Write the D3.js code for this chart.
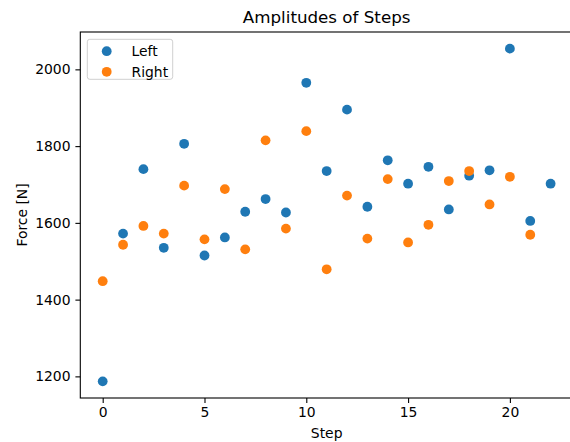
<!DOCTYPE html>
<html><head><meta charset="utf-8">
<script src="https://cdn.jsdelivr.net/npm/d3@7"></script>
<style>body{margin:0;background:#fff}svg{display:block;font-family:"DejaVu Sans",sans-serif}</style>
</head><body><svg id="c" width="570" height="442"></svg>
<script>
const leftValues = [1187, 1572, 1740, 1535, 1806, 1515, 1562, 1629, 1662, 1627, 1965, 1735, 1895, 1642, 1763, 1702, 1746, 1635, 1723, 1737, 2054, 1605, 1702];
const rightValues = [1448, 1543, 1592, 1572, 1697, 1557, 1688, 1531, 1815, 1585, 1839, 1479, 1671, 1559, 1714, 1549, 1595, 1709, 1735, 1648, 1720, 1569];
const seriesNames = ["Left", "Right"];
const seriesColors = ["#1f77b4", "#ff7f0e"];
const xTicks = [0, 5, 10, 15, 20];
const yTicks = [1200, 1400, 1600, 1800, 2000];

const svg = d3.select("#c");
const L = 80.3, R = 573, T = 32, B = 398;
const allX = [0, Math.max(leftValues.length, rightValues.length) - 1];
const xm = (allX[1] - allX[0]) * 0.05;
const x = d3.scaleLinear().domain([allX[0] - xm, allX[1] + xm]).range([L, R]);
const ext = d3.extent(leftValues.concat(rightValues));
const ym = (ext[1] - ext[0]) * 0.05;
const y = d3.scaleLinear().domain([ext[0] - ym, ext[1] + ym]).range([B, T]);

const fs = 13.9;
// x axis
const xa = svg.append("g").attr("transform", `translate(0,${B})`)
  .call(d3.axisBottom(x).tickValues(xTicks).tickSize(4.9).tickPadding(4.2).tickFormat(d3.format("d")));
const ya = svg.append("g").attr("transform", `translate(${L},0)`)
  .call(d3.axisLeft(y).tickValues(yTicks).tickSize(4.9).tickPadding(4.9).tickFormat(d3.format("d")));
[xa, ya].forEach(g => {
  g.select(".domain").remove();
  g.selectAll("line").attr("stroke", "#000").attr("stroke-width", 1.1);
  g.selectAll("text").attr("font-size", fs).attr("fill", "#000").attr("font-family", "DejaVu Sans");
});
// frame
svg.append("rect").attr("x", L).attr("y", T).attr("width", R - L).attr("height", B - T)
  .attr("fill", "none").attr("stroke", "#000").attr("stroke-width", 1.1);

// points
[leftValues, rightValues].forEach((vals, i) => {
  svg.append("g").selectAll("circle").data(vals).join("circle")
    .attr("cx", (d, j) => x(j)).attr("cy", d => y(d)).attr("r", 4.9)
    .attr("fill", seriesColors[i]);
});

// title & labels
svg.append("text").attr("x", (L + R) / 2).attr("y", 22.5).attr("text-anchor", "middle")
  .attr("font-size", 16.7).text("Amplitudes of Steps");
svg.append("text").attr("x", (L + R) / 2).attr("y", 438).attr("text-anchor", "middle")
  .attr("font-size", fs).text("Step");
svg.append("text").attr("transform", `translate(26.5,${(T + B) / 2}) rotate(-90)`).attr("text-anchor", "middle")
  .attr("font-size", fs).text("Force [N]");

// legend
const lg = svg.append("g");
lg.append("rect").attr("x", 87.3).attr("y", 39.3).attr("width", 85.4).attr("height", 40).attr("rx", 2.5)
  .attr("fill", "#fff").attr("fill-opacity", 0.8).attr("stroke", "#d0d0d0").attr("stroke-width", 1);
seriesNames.forEach((n, i) => {
  const cy = 51.2 + i * 20.6;
  lg.append("circle").attr("cx", 106.7).attr("cy", cy).attr("r", 4.9).attr("fill", seriesColors[i]);
  lg.append("text").attr("x", 131.5).attr("y", cy + 5).attr("font-size", fs).text(n);
});
</script></body></html>
